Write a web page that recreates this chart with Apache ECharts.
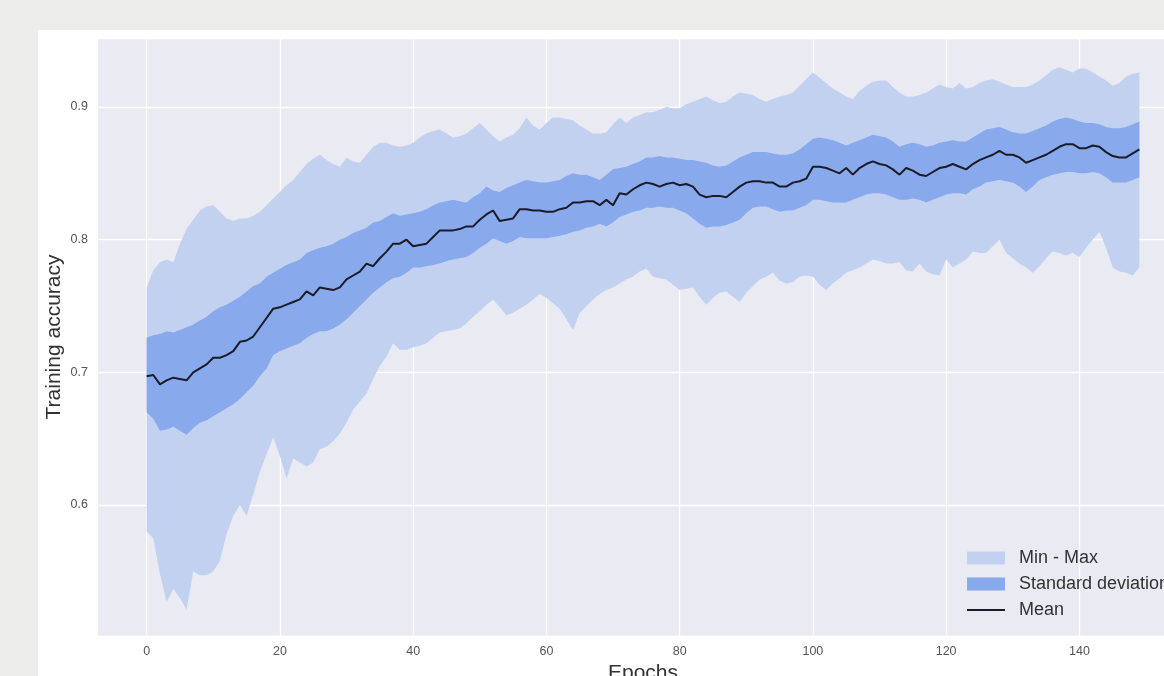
<!DOCTYPE html>
<html>
<head>
<meta charset="utf-8">
<script src="https://cdn.jsdelivr.net/npm/echarts@6/dist/echarts.min.js"></script>
<style>
  html, body { margin: 0; padding: 0; background: #EDEEEC; }
  #chart { width: 1164px; height: 676px; }
</style>
</head>
<body>
<div id="chart"></div>
<script>
// Training accuracy per epoch: mean, standard-deviation band and min/max envelope
const epochs = Array.from({ length: 150 }, (_, i) => i);

const meanAcc = [
  0.697, 0.698, 0.691, 0.694, 0.696, 0.695, 0.694, 0.700, 0.703, 0.706,
  0.711, 0.711, 0.713, 0.716, 0.723, 0.724, 0.727, 0.734, 0.741, 0.748,
  0.749, 0.751, 0.753, 0.755, 0.761, 0.758, 0.764, 0.763, 0.762, 0.764,
  0.770, 0.773, 0.776, 0.782, 0.780, 0.786, 0.791, 0.797, 0.797, 0.800,
  0.795, 0.796, 0.797, 0.802, 0.807, 0.807, 0.807, 0.808, 0.810, 0.810,
  0.815, 0.819, 0.822, 0.814, 0.815, 0.816, 0.823, 0.823, 0.822, 0.822,
  0.821, 0.821, 0.823, 0.824, 0.828, 0.828, 0.829, 0.829, 0.826, 0.830,
  0.826, 0.835, 0.834, 0.838, 0.841, 0.843, 0.842, 0.840, 0.842, 0.843,
  0.841, 0.842, 0.840, 0.834, 0.832, 0.833, 0.833, 0.832, 0.836, 0.840,
  0.843, 0.844, 0.844, 0.843, 0.843, 0.840, 0.840, 0.843, 0.844, 0.846,
  0.855, 0.855, 0.854, 0.852, 0.850, 0.854, 0.849, 0.854, 0.857, 0.859,
  0.857, 0.856, 0.853, 0.849, 0.854, 0.852, 0.849, 0.848, 0.851, 0.854,
  0.855, 0.857, 0.855, 0.853, 0.857, 0.860, 0.862, 0.864, 0.867, 0.864,
  0.864, 0.862, 0.858, 0.860, 0.862, 0.864, 0.867, 0.870, 0.872, 0.872,
  0.869, 0.869, 0.871, 0.870, 0.866, 0.863, 0.862, 0.862, 0.865, 0.868
];

const stdUpper = [
  0.726, 0.728, 0.729, 0.731, 0.730, 0.732, 0.734, 0.736, 0.739, 0.742,
  0.746, 0.749, 0.751, 0.754, 0.757, 0.761, 0.765, 0.767, 0.772, 0.775,
  0.778, 0.781, 0.783, 0.785, 0.790, 0.792, 0.794, 0.795, 0.797, 0.800,
  0.802, 0.805, 0.807, 0.809, 0.813, 0.814, 0.817, 0.820, 0.818, 0.819,
  0.820, 0.821, 0.823, 0.826, 0.828, 0.829, 0.830, 0.829, 0.828, 0.832,
  0.835, 0.840, 0.837, 0.836, 0.839, 0.841, 0.843, 0.845, 0.844, 0.843,
  0.843, 0.844, 0.845, 0.848, 0.850, 0.849, 0.849, 0.847, 0.845, 0.849,
  0.853, 0.854, 0.855, 0.857, 0.859, 0.862, 0.862, 0.863, 0.862, 0.862,
  0.861, 0.860, 0.860, 0.859, 0.858, 0.856, 0.855, 0.856, 0.859, 0.862,
  0.864, 0.866, 0.866, 0.866, 0.865, 0.864, 0.864, 0.865, 0.868, 0.872,
  0.876, 0.877, 0.876, 0.875, 0.873, 0.871, 0.873, 0.875, 0.877, 0.879,
  0.878, 0.877, 0.874, 0.870, 0.872, 0.873, 0.872, 0.870, 0.871, 0.873,
  0.874, 0.875, 0.874, 0.874, 0.877, 0.880, 0.883, 0.884, 0.885, 0.883,
  0.881, 0.880, 0.880, 0.882, 0.884, 0.886, 0.889, 0.891, 0.892, 0.891,
  0.889, 0.888, 0.888, 0.887, 0.885, 0.884, 0.884, 0.885, 0.887, 0.889
];

const stdLower = [
  0.670, 0.665, 0.656, 0.657, 0.659, 0.656, 0.653, 0.658, 0.662, 0.664,
  0.667, 0.670, 0.673, 0.676, 0.680, 0.685, 0.690, 0.697, 0.703, 0.713,
  0.716, 0.718, 0.720, 0.722, 0.726, 0.729, 0.731, 0.731, 0.733, 0.736,
  0.740, 0.745, 0.750, 0.755, 0.760, 0.764, 0.768, 0.771, 0.772, 0.775,
  0.779, 0.779, 0.780, 0.781, 0.782, 0.784, 0.785, 0.786, 0.787, 0.790,
  0.794, 0.797, 0.801, 0.799, 0.797, 0.799, 0.802, 0.801, 0.801, 0.801,
  0.801, 0.802, 0.803, 0.804, 0.806, 0.807, 0.809, 0.810, 0.812, 0.810,
  0.813, 0.817, 0.819, 0.821, 0.822, 0.824, 0.824, 0.825, 0.824, 0.824,
  0.822, 0.820, 0.816, 0.812, 0.809, 0.810, 0.810, 0.811, 0.813, 0.815,
  0.820, 0.824, 0.825, 0.825, 0.823, 0.821, 0.822, 0.822, 0.824, 0.826,
  0.830, 0.830, 0.829, 0.828, 0.828, 0.828, 0.830, 0.832, 0.834, 0.835,
  0.835, 0.834, 0.832, 0.830, 0.830, 0.831, 0.830, 0.828, 0.830, 0.832,
  0.834, 0.835, 0.835, 0.834, 0.838, 0.840, 0.843, 0.844, 0.845, 0.844,
  0.843, 0.840, 0.836, 0.840, 0.845, 0.847, 0.849, 0.850, 0.851, 0.851,
  0.850, 0.850, 0.851, 0.850, 0.847, 0.843, 0.843, 0.843, 0.845, 0.847
];

const maxAcc = [
  0.764, 0.777, 0.783, 0.785, 0.783, 0.797, 0.808, 0.815, 0.822, 0.825,
  0.826, 0.821, 0.816, 0.814, 0.816, 0.816, 0.818, 0.821, 0.826, 0.831,
  0.836, 0.841, 0.845, 0.851, 0.857, 0.861, 0.864, 0.860, 0.857, 0.855,
  0.862, 0.859, 0.858, 0.864, 0.870, 0.873, 0.873, 0.871, 0.870, 0.871,
  0.873, 0.877, 0.880, 0.882, 0.883, 0.880, 0.877, 0.878, 0.880, 0.884,
  0.888, 0.883, 0.878, 0.874, 0.877, 0.879, 0.884, 0.892, 0.886, 0.883,
  0.888, 0.892, 0.892, 0.891, 0.890, 0.886, 0.883, 0.880, 0.880, 0.881,
  0.887, 0.892, 0.888, 0.892, 0.894, 0.896, 0.896, 0.898, 0.900, 0.899,
  0.899, 0.902, 0.904, 0.906, 0.908, 0.905, 0.903, 0.904, 0.908, 0.911,
  0.910, 0.909, 0.906, 0.904, 0.906, 0.908, 0.909, 0.911, 0.916, 0.921,
  0.926, 0.922, 0.918, 0.914, 0.911, 0.908, 0.906, 0.912, 0.916, 0.919,
  0.920, 0.920, 0.915, 0.911, 0.908, 0.908, 0.909, 0.911, 0.914, 0.917,
  0.915, 0.914, 0.918, 0.914, 0.915, 0.918, 0.920, 0.921, 0.919, 0.917,
  0.915, 0.915, 0.915, 0.917, 0.920, 0.924, 0.928, 0.930, 0.928, 0.926,
  0.929, 0.929, 0.926, 0.923, 0.920, 0.916, 0.918, 0.923, 0.925, 0.926
];

const minAcc = [
  0.580, 0.575, 0.548, 0.527, 0.537, 0.530, 0.521, 0.550, 0.547, 0.547,
  0.550, 0.558, 0.578, 0.592, 0.600, 0.592, 0.608, 0.625, 0.638, 0.651,
  0.637, 0.620, 0.635, 0.632, 0.629, 0.632, 0.642, 0.644, 0.648, 0.654,
  0.662, 0.672, 0.678, 0.684, 0.695, 0.705, 0.712, 0.722, 0.717, 0.717,
  0.719, 0.720, 0.722, 0.726, 0.730, 0.731, 0.732, 0.733, 0.737, 0.742,
  0.746, 0.751, 0.755, 0.749, 0.743, 0.745, 0.748, 0.751, 0.755, 0.759,
  0.756, 0.752, 0.748, 0.740, 0.732, 0.745, 0.750, 0.755, 0.759, 0.762,
  0.764, 0.767, 0.770, 0.772, 0.776, 0.778, 0.772, 0.771, 0.770, 0.766,
  0.762, 0.763, 0.764, 0.757, 0.751, 0.756, 0.760, 0.761, 0.757, 0.753,
  0.760, 0.765, 0.770, 0.772, 0.775, 0.769, 0.767, 0.768, 0.772, 0.773,
  0.772, 0.766, 0.762, 0.767, 0.771, 0.775, 0.777, 0.779, 0.782, 0.785,
  0.784, 0.782, 0.782, 0.783, 0.777, 0.776, 0.782, 0.776, 0.774, 0.773,
  0.785, 0.779, 0.782, 0.785, 0.791, 0.790, 0.790, 0.795, 0.800, 0.790,
  0.786, 0.782, 0.779, 0.775, 0.780, 0.786, 0.791, 0.790, 0.788, 0.790,
  0.787, 0.794, 0.800, 0.806, 0.794, 0.779, 0.776, 0.775, 0.773, 0.779
];

const xTicks = [0, 20, 40, 60, 80, 100, 120, 140];
const yTicks = [0.6, 0.7, 0.8, 0.9];

const COLOR_MINMAX = '#C3D1F0';
const COLOR_STD = '#88A9EC';
const COLOR_MEAN = '#1B1B28';
const FONT = '"Liberation Sans", Arial, sans-serif';

// Thin horizontal stroke inside a 38x13 box, used as the legend key of the mean line
const MEAN_KEY = 'path://M0,0 M0,5.5 L38,5.5 L38,7.5 L0,7.5 Z M38,13';

// Filled band between a lower and an upper curve, projected through the grid's axes
function band(name, lower, upper, color, z) {
  return {
    type: 'custom',
    name: name,
    z: z,
    silent: true,
    clip: true,
    itemStyle: { color: color },
    data: [[epochs[0], lower[0]]],
    renderItem: function (params, api) {
      const top = upper.map((v, i) => api.coord([epochs[i], v]));
      const bottom = lower.map((v, i) => api.coord([epochs[i], v])).reverse();
      return {
        type: 'polygon',
        shape: { points: top.concat(bottom) },
        style: { fill: color }
      };
    }
  };
}

function onTick(list, v) {
  return list.some(t => Math.abs(t - v) < 1e-6);
}

const chart = echarts.init(document.getElementById('chart'), null, { renderer: 'canvas' });

chart.setOption({
  backgroundColor: '#EDEEEC',
  animation: false,
  graphic: [{
    type: 'rect',
    z: -10,
    silent: true,
    shape: { x: 38, y: 30, width: 1126, height: 646 },
    style: { fill: '#FFFFFF' }
  }],
  grid: {
    left: 97,
    top: 38,
    width: 1092,
    height: 598,
    show: true,
    backgroundColor: '#EAEAF2',
    borderWidth: 0,
    containLabel: false,
    outerBoundsMode: 'none'
  },
  xAxis: {
    type: 'value',
    min: -7.45,
    max: 156.45,
    minInterval: 20,
    maxInterval: 20,
    name: 'Epochs',
    nameLocation: 'middle',
    nameGap: 23,
    nameTextStyle: { fontFamily: FONT, fontSize: 21, color: '#333333' },
    axisLine: { show: false },
    axisTick: { show: false },
    axisLabel: {
      fontFamily: FONT,
      fontSize: 12.5,
      color: '#555555',
      margin: 9,
      showMinLabel: false,
      showMaxLabel: false,
      formatter: v => onTick(xTicks, v) ? String(Math.round(v)) : ''
    },
    splitLine: { show: true, lineStyle: { color: '#FFFFFF', width: 1.3 } }
  },
  yAxis: {
    type: 'value',
    min: 0.5013,
    max: 0.952,
    minInterval: 0.1,
    maxInterval: 0.1,
    name: 'Training accuracy',
    nameLocation: 'middle',
    nameGap: 32,
    nameMoveOverlap: false,
    nameTextStyle: { fontFamily: FONT, fontSize: 21, color: '#333333' },
    axisLine: { show: false },
    axisTick: { show: false },
    axisLabel: {
      fontFamily: FONT,
      fontSize: 12.5,
      color: '#555555',
      margin: 9,
      showMinLabel: false,
      showMaxLabel: false,
      formatter: v => onTick(yTicks, v) ? v.toFixed(1) : ''
    },
    splitLine: { show: true, lineStyle: { color: '#FFFFFF', width: 1.3 } }
  },
  legend: {
    orient: 'vertical',
    left: 967,
    top: 549,
    padding: 0,
    itemWidth: 38,
    itemHeight: 13,
    itemGap: 8,
    textStyle: { fontFamily: FONT, fontSize: 18, color: '#333333', padding: [0, 0, 0, 9] },
    data: [
      { name: 'Min - Max', icon: 'rect', itemStyle: { color: COLOR_MINMAX } },
      { name: 'Standard deviation', icon: 'rect', itemStyle: { color: COLOR_STD } },
      { name: 'Mean', icon: MEAN_KEY, itemStyle: { color: COLOR_MEAN } }
    ]
  },
  series: [
    band('Min - Max', minAcc, maxAcc, COLOR_MINMAX, 1),
    band('Standard deviation', stdLower, stdUpper, COLOR_STD, 2),
    {
      type: 'line',
      name: 'Mean',
      z: 3,
      symbol: 'none',
      silent: true,
      lineStyle: { color: COLOR_MEAN, width: 2 },
      itemStyle: { color: COLOR_MEAN },
      data: epochs.map((e, i) => [e, meanAcc[i]])
    }
  ]
});
</script>
</body>
</html>
